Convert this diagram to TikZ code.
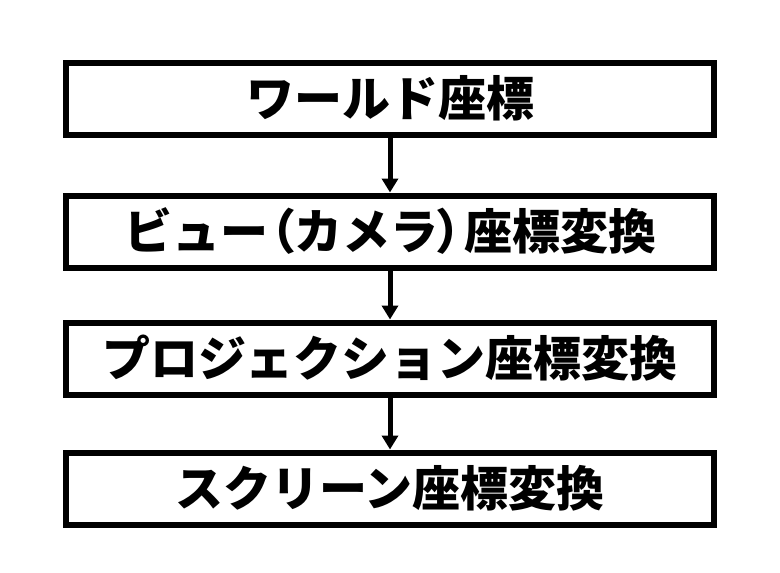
\documentclass[tikz,border=0pt]{standalone}
\usepackage{fontspec}
\newfontfamily\jp{Noto Sans CJK JP}
\usepackage{tikz}
\usetikzlibrary{positioning,arrows.meta}

\begin{document}
\begin{tikzpicture}[x=1pt,y=1pt,
		stage/.style={draw, line width=6pt, minimum width=648pt, minimum height=72pt, inner sep=0pt, font=\jp\bfseries\fontsize{48}{48}\selectfont},
		flow/.style={line width=5pt, -{Triangle[width=16pt,length=14pt]}}]
		\useasboundingbox (0,0) rectangle (780,-573);
		\node[stage] (world) at (390,-98.5) {ワールド座標};
		\node[stage, below=55pt of world] (view) {ビュー\kern-20pt（\kern-2pt カメラ\kern-2pt）\kern-20pt 座標変換};
		\node[stage, below=49pt of view] (proj) {プロジェクション座標変換};
		\node[stage, below=52pt of proj] (screen) {スクリーン座標変換};
		\draw[flow] (world) -- (view);
		\draw[flow] (view) -- (proj);
		\draw[flow] (proj) -- (screen);
	\end{tikzpicture}
\end{document}
